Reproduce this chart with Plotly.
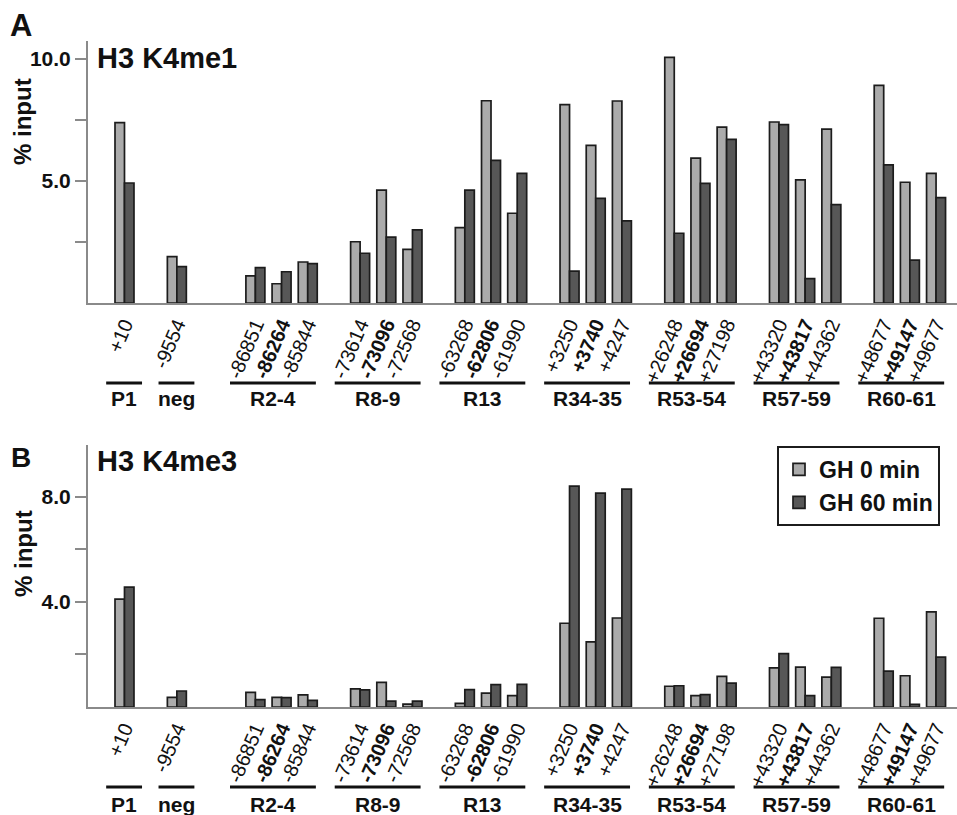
import plotly.graph_objects as go

# ---------------- data ----------------
group_names = ["P1", "neg", "R2-4", "R8-9", "R13", "R34-35", "R53-54", "R57-59", "R60-61"]
group_sites = [
    ["+10"],
    ["-9554"],
    ["-86851", "-86264", "-85844"],
    ["-73614", "-73096", "-72568"],
    ["-63268", "-62806", "-61990"],
    ["+3250", "+3740", "+4247"],
    ["+26248", "+26694", "+27198"],
    ["+43320", "+43817", "+44362"],
    ["+48677", "+49147", "+49677"],
]
# index of the bold site inside each group (None = none)
bold_site = [None, None, 1, 1, 1, 1, 1, 1, 1]

series_names = ["GH 0 min", "GH 60 min"]

# H3 K4me1 (% input)
k4me1_0 = [7.39, 1.90, 1.11, 0.79, 1.68, 2.51, 4.63, 2.20, 3.09, 8.29, 3.68,
           8.13, 6.46, 8.28, 10.07, 5.94, 7.21, 7.42, 5.05, 7.13, 8.92, 4.95, 5.31]
k4me1_60 = [4.92, 1.49, 1.45, 1.28, 1.61, 2.04, 2.70, 3.00, 4.63, 5.85, 5.31,
            1.31, 4.29, 3.37, 2.86, 4.90, 6.71, 7.31, 1.00, 4.03, 5.66, 1.76, 4.32]

# H3 K4me3 (% input)
k4me3_0 = [4.11, 0.37, 0.56, 0.37, 0.46, 0.69, 0.94, 0.11, 0.14, 0.53, 0.43,
           3.19, 2.48, 3.39, 0.79, 0.43, 1.17, 1.49, 1.52, 1.14, 3.38, 1.19, 3.62]
k4me3_60 = [4.57, 0.61, 0.28, 0.36, 0.25, 0.65, 0.22, 0.22, 0.66, 0.85, 0.86,
            8.41, 8.15, 8.30, 0.81, 0.47, 0.91, 2.03, 0.43, 1.51, 1.37, 0.10, 1.90]

# ---------------- layout helpers ----------------
W, H = 957, 815
L, R, T, B = 88, 0, 41, 108
PH = H - T - B
# spacing (in slots) from the previous group's last site to this group's first
group_step = [0, 2, 3, 2, 2, 2, 2, 2, 2]

positions = []
group_pos = []
cur = 0
for gi, sites in enumerate(group_sites):
    cur = cur + group_step[gi] if gi > 0 else 0
    gp = [cur + si for si in range(len(sites))]
    cur = gp[-1]
    group_pos.append(gp)
    positions.extend(gp)

ticktext = []
for gi, sites in enumerate(group_sites):
    for si, s in enumerate(sites):
        ticktext.append(f"<b>{s}</b>" if bold_site[gi] == si else s)

def py(px):  # pixel y -> paper y
    return (H - B - px) / PH

def pxx(px):  # pixel x -> paper x
    return (px - L) / (W - L - R)

FONT = "Liberation Sans, Arial, Helvetica, sans-serif"
LIGHT, DARK, EDGE, AXC = "#ababab", "#575757", "#1c1c1c", "#8a8a8a"

fig = go.Figure()
panels = [
    (k4me1_0, k4me1_60, "x", "y", False),
    (k4me3_0, k4me3_60, "x2", "y2", True),
]
for v0, v60, xa, ya, leg in panels:
    fig.add_trace(go.Bar(x=positions, y=v0, name=f"<b>{series_names[0]}</b>",
                         marker=dict(color=LIGHT, line=dict(color=EDGE, width=1.7)),
                         xaxis=xa, yaxis=ya, showlegend=leg, legendgroup="a"))
    fig.add_trace(go.Bar(x=positions, y=v60, name=f"<b>{series_names[1]}</b>",
                         marker=dict(color=DARK, line=dict(color=EDGE, width=1.7)),
                         xaxis=xa, yaxis=ya, showlegend=leg, legendgroup="b"))

xr = [-1.394, 31.8]
xcommon = dict(range=xr, showline=True, linecolor=AXC, linewidth=2, ticks="",
               tickmode="array", tickvals=positions, ticktext=ticktext,
               tickangle=-67, tickfont=dict(family=FONT, size=20, color="#111"),
               showgrid=False, zeroline=False, fixedrange=True, automargin=False)
ycommon = dict(showline=True, linecolor=AXC, linewidth=2, ticks="outside",
               ticklen=11, tickwidth=2, tickcolor=AXC, showgrid=False, zeroline=False,
               tickfont=dict(family=FONT, size=21, color="#111"), tickmode="array",
               automargin=False, fixedrange=True)

top_dom = [py(303), 1.0]
bot_dom = [0.0, py(445)]

fig.update_layout(
    width=W, height=H,
    margin=dict(l=L, r=R, t=T, b=B, autoexpand=False),
    paper_bgcolor="white", plot_bgcolor="white",
    barmode="group", bargap=0.275, bargroupgap=0,
    font=dict(family=FONT, color="#111"),
    xaxis=dict(domain=[0, 1], anchor="y", **xcommon),
    xaxis2=dict(domain=[0, 1], anchor="y2", **xcommon),
    yaxis=dict(domain=top_dom, anchor="x", range=[0, 10.74],
               tickvals=[2.5, 5, 7.5, 10], ticktext=["", "<b>5.0</b>", "", "<b>10.0</b>"],
               **ycommon),
    yaxis2=dict(domain=bot_dom, anchor="x2", range=[0, 9.98],
                tickvals=[2, 4, 6, 8], ticktext=["", "<b>4.0</b>", "", "<b>8.0</b>"],
                **ycommon),
    legend=dict(x=pxx(777), y=py(446), xanchor="left", yanchor="top",
                bgcolor="white", bordercolor=EDGE, borderwidth=2,
                font=dict(family=FONT, size=23, color="#111"),
                tracegroupgap=0, itemwidth=30),
    showlegend=True,
)

shapes = []
annotations = []
for panel, (line_y, lab_y) in enumerate([(383, 398), (787, 804)]):
    xref = "x" if panel == 0 else "x2"
    for gi, gp in enumerate(group_pos):
        if len(gp) == 1:
            x0, x1 = gp[0] - 0.70, gp[0] + 0.67
        else:
            x0, x1 = gp[0] - 0.97, gp[-1] + 0.31
        shapes.append(dict(type="line", xref=xref, yref="paper", x0=x0, x1=x1,
                           y0=py(line_y), y1=py(line_y),
                           line=dict(color="#111", width=2.8)))
        annotations.append(dict(xref=xref, yref="paper", x=(x0 + x1) / 2, y=py(lab_y),
                                text=f"<b>{group_names[gi]}</b>", showarrow=False,
                                xanchor="center", yanchor="middle",
                                font=dict(family=FONT, size=21, color="#111")))

titles = [("H3 K4me1", 58), ("H3 K4me3", 461)]
for t, yc in titles:
    annotations.append(dict(xref="paper", yref="paper", x=pxx(95), y=py(yc),
                            text=f"<b>{t}</b>", showarrow=False, xanchor="left",
                            yanchor="middle", font=dict(family=FONT, size=29, color="#111")))
for letter, yc, sz in [("A", 25, 31), ("B", 457, 28)]:
    annotations.append(dict(xref="paper", yref="paper", x=pxx(21), y=py(yc),
                            text=f"<b>{letter}</b>", showarrow=False, xanchor="center",
                            yanchor="middle", font=dict(family=FONT, size=sz, color="#111")))
for yc in [122, 554]:
    annotations.append(dict(xref="paper", yref="paper", x=pxx(23), y=py(yc),
                            text="<b>% input</b>", showarrow=False, textangle=-90,
                            xanchor="center", yanchor="middle",
                            font=dict(family=FONT, size=24, color="#111")))

fig.update_layout(shapes=shapes, annotations=annotations)
fig.write_html("out.html", config={"displayModeBar": False},
               post_script="document.body.style.margin='0';document.body.style.overflow='hidden';")
